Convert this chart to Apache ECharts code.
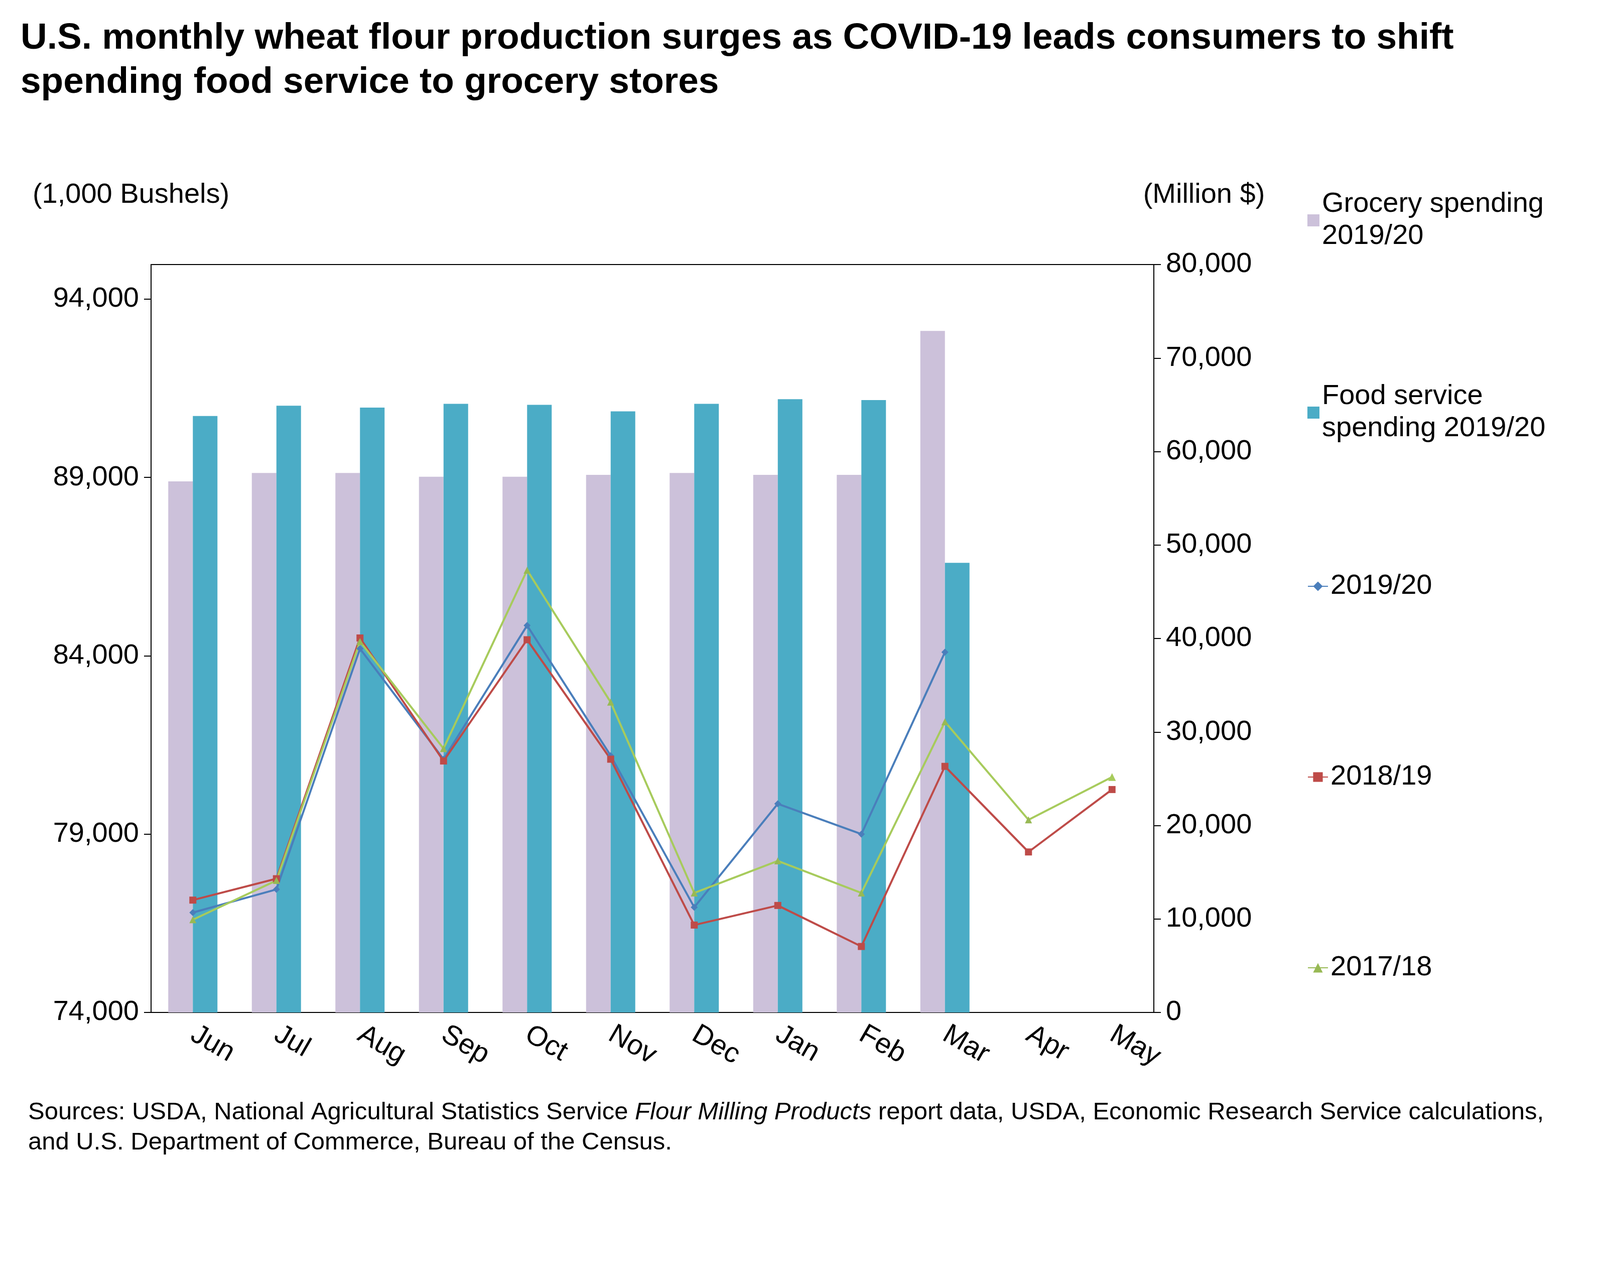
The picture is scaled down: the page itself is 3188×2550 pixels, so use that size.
<!DOCTYPE html>
<html>
<head>
<meta charset="utf-8">
<script src="https://cdn.jsdelivr.net/npm/echarts@6/dist/echarts.min.js"></script>
<style>
html,body{margin:0;padding:0;background:#fff;}
#chart{width:3188px;height:2550px;}
</style>
</head>
<body>
<div id="chart"></div>
<script>
var months = ['Jun','Jul','Aug','Sep','Oct','Nov','Dec','Jan','Feb','Mar','Apr','May'];
var grocery = [56800,57700,57700,57300,57300,57500,57700,57500,57500,72900];
var foodService = [63800,64900,64700,65100,65000,64300,65100,65600,65500,48100];
var y1920 = [76800,77450,84200,81100,84850,81200,76950,79850,79000,84100];
var y1819 = [77150,77750,84500,81050,84450,81100,76450,77000,75850,80900,78500,80250];
var y1718 = [76600,77700,84400,81400,86400,82700,77350,78250,77350,82150,79400,80600];

var font = 'Liberation Sans, Arial, sans-serif';
var legendTops = [370, 753, 1131, 1511, 1891];
var legendNames = ['Grocery spending\n2019/20', 'Food service\nspending 2019/20', '2019/20', '2018/19', '2017/18'];

var legends = legendNames.map(function (n, i) {
    return {
        orient: 'vertical',
        left: 2600, top: legendTops[i],
        itemWidth: i < 2 ? 24 : 40, itemHeight: 24,
        textStyle: { fontSize: 56, lineHeight: 64, color: '#000', fontFamily: font },
        data: [i < 2 ? { name: n, icon: 'rect' } : n]
    };
});

var charts = echarts.init(document.getElementById('chart'));
var option = {
    backgroundColor: '#fff',
    textStyle: { fontFamily: font, color: '#000' },
    title: {
        text: 'U.S. monthly wheat flour production surges as COVID-19 leads consumers to shift\nspending food service to grocery stores',
        left: 36, top: 28,
        textStyle: { fontSize: 73, fontWeight: 'bold', lineHeight: 88, color: '#000', fontFamily: font }
    },
    legend: legends,
    grid: { left: 301, right: 889, top: 527, bottom: 533, show: true, borderColor: '#000', borderWidth: 2 },
    xAxis: {
        type: 'category',
        data: months,
        axisLine: { lineStyle: { color: '#000', width: 2 } },
        axisTick: { show: false },
        axisLabel: { fontSize: 56, rotate: -30, margin: 40, color: '#000' }
    },
    yAxis: [{
        type: 'value',
        name: '(1,000 Bushels)',
        nameLocation: 'end',
        nameGap: 110,
        nameTextStyle: { fontSize: 56, color: '#000', align: 'center', padding: [0, 80, 0, 0] },
        min: 74000, max: 94970, interval: 5000,
        splitLine: { show: false },
        axisLine: { show: true, lineStyle: { color: '#000', width: 2 } },
        axisTick: { show: true, length: 14, lineStyle: { color: '#000', width: 2 } },
        axisLabel: { fontSize: 56, color: '#000', margin: 24, showMaxLabel: false,
            formatter: function (v) { return v.toLocaleString('en-US'); } }
    }, {
        type: 'value',
        name: '(Million $)',
        nameLocation: 'end',
        nameGap: 110,
        nameTextStyle: { fontSize: 56, color: '#000', align: 'center', padding: [0, 0, 0, 200] },
        min: 0, max: 80000, interval: 10000,
        splitLine: { show: false },
        axisLine: { show: true, lineStyle: { color: '#000', width: 2 } },
        axisTick: { show: true, length: 14, lineStyle: { color: '#000', width: 2 } },
        axisLabel: { fontSize: 56, color: '#000', margin: 24,
            formatter: function (v) { return v.toLocaleString('en-US'); } }
    }],
    series: [
        { name: legendNames[0], type: 'bar', yAxisIndex: 1, data: grocery,
          barWidth: 49, barGap: '0%', itemStyle: { color: '#CCC1DA' } },
        { name: legendNames[1], type: 'bar', yAxisIndex: 1, data: foodService,
          barWidth: 49, itemStyle: { color: '#4BACC6' } },
        { name: '2019/20', type: 'line', data: y1920, symbol: 'diamond', symbolSize: 14,
          itemStyle: { color: '#4A7EBB' }, lineStyle: { color: '#4A7EBB', width: 4 } },
        { name: '2018/19', type: 'line', data: y1819, symbol: 'rect', symbolSize: 14,
          itemStyle: { color: '#BE4B48' }, lineStyle: { color: '#BE4B48', width: 4 } },
        { name: '2017/18', type: 'line', data: y1718, symbol: 'triangle', symbolSize: 14,
          itemStyle: { color: '#98B954' }, lineStyle: { color: '#98B954', width: 4 } }
    ],
    graphic: [{
        type: 'text', left: 56, top: 2192,
        style: {
            rich: {
                n: { fontSize: 49, fontFamily: font, fill: '#000', lineHeight: 60 },
                i: { fontSize: 49, fontFamily: font, fill: '#000', fontStyle: 'italic', lineHeight: 60 }
            },
            text: '{n|Sources: USDA, National Agricultural Statistics Service }{i|Flour Milling Products}{n| report data, USDA, Economic Research Service calculations,}\n{n|and U.S. Department of Commerce, Bureau of the Census.}'
        }
    }]
};
charts.setOption(option);
</script>
</body>
</html>
